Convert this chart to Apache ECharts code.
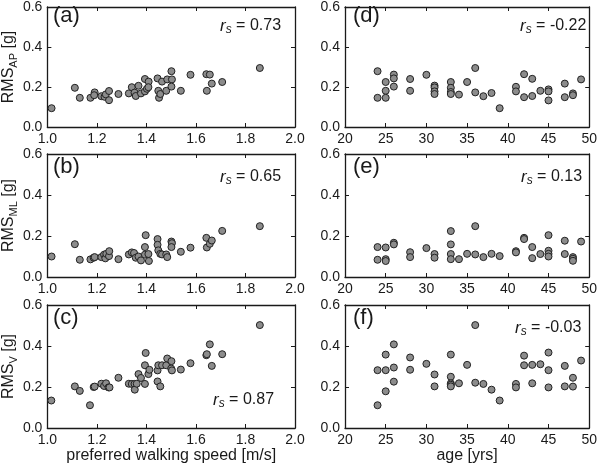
<!DOCTYPE html>
<html><head><meta charset="utf-8">
<script src="https://cdn.jsdelivr.net/npm/echarts@6/dist/echarts.min.js"></script>
<style>html,body{margin:0;padding:0;background:#fff}#c{width:600px;height:466px}</style>
</head><body><div id="c"></div>
<script>
// ---- data ----
const panelLabels = ['(a)', '(b)', '(c)', '(d)', '(e)', '(f)'];
const rsValues = ['0.73', '0.65', '0.87', '-0.22', '0.13', '-0.03'];
const yNames = [['RMS', 'AP'], ['RMS', 'ML'], ['RMS', 'V']];
const speedTicks = [1.0, 1.2, 1.4, 1.6, 1.8, 2.0];
const ageTicks = [20, 25, 30, 35, 40, 45, 50];
const rmsTicks = [0.0, 0.2, 0.4, 0.6];

// (a) speed vs RMS_AP
const speedAP = [[1.017,0.094],[1.111,0.196],[1.131,0.146],[1.174,0.146],[1.191,0.173],[1.189,0.159],[1.218,0.154],[1.231,0.151],[1.236,0.163],[1.249,0.180],[1.249,0.134],[1.287,0.165],[1.329,0.168],[1.341,0.199],[1.352,0.172],[1.357,0.155],[1.368,0.206],[1.378,0.168],[1.394,0.240],[1.394,0.178],[1.402,0.191],[1.409,0.227],[1.408,0.199],[1.445,0.243],[1.448,0.181],[1.451,0.146],[1.456,0.165],[1.463,0.227],[1.480,0.181],[1.484,0.238],[1.501,0.279],[1.503,0.238],[1.501,0.202],[1.539,0.181],[1.578,0.261],[1.642,0.264],[1.644,0.181],[1.656,0.262],[1.664,0.217],[1.706,0.225],[1.858,0.295]];
// (b) speed vs RMS_ML
const speedML = [[1.017,0.100],[1.111,0.160],[1.131,0.084],[1.174,0.086],[1.187,0.094],[1.191,0.097],[1.218,0.097],[1.229,0.109],[1.234,0.091],[1.238,0.113],[1.249,0.102],[1.250,0.126],[1.287,0.087],[1.329,0.110],[1.341,0.120],[1.350,0.117],[1.357,0.094],[1.368,0.100],[1.378,0.081],[1.394,0.146],[1.394,0.109],[1.397,0.204],[1.408,0.112],[1.410,0.078],[1.445,0.185],[1.445,0.157],[1.448,0.130],[1.456,0.113],[1.463,0.110],[1.480,0.110],[1.484,0.097],[1.501,0.173],[1.503,0.165],[1.501,0.146],[1.539,0.123],[1.578,0.143],[1.642,0.191],[1.644,0.144],[1.656,0.162],[1.664,0.178],[1.706,0.225],[1.858,0.248]];
// (c) speed vs RMS_V
const speedV = [[1.016,0.134],[1.111,0.203],[1.131,0.181],[1.172,0.111],[1.187,0.200],[1.191,0.202],[1.218,0.216],[1.229,0.205],[1.237,0.218],[1.247,0.198],[1.251,0.198],[1.287,0.245],[1.329,0.216],[1.341,0.215],[1.352,0.215],[1.353,0.187],[1.361,0.216],[1.368,0.263],[1.378,0.244],[1.394,0.215],[1.397,0.366],[1.394,0.306],[1.408,0.263],[1.412,0.284],[1.445,0.281],[1.448,0.306],[1.445,0.227],[1.456,0.203],[1.463,0.306],[1.480,0.306],[1.484,0.339],[1.501,0.326],[1.500,0.290],[1.503,0.281],[1.539,0.285],[1.578,0.316],[1.642,0.355],[1.644,0.360],[1.656,0.408],[1.664,0.303],[1.706,0.360],[1.858,0.502]];
// (d) age vs RMS_AP
const ageAP = [[24,0.279],[24,0.146],[25,0.225],[25,0.181],[25,0.146],[26,0.262],[26,0.243],[26,0.202],[28,0.240],[28,0.181],[30,0.261],[31,0.207],[31,0.198],[31,0.178],[31,0.165],[33,0.225],[33,0.196],[33,0.175],[33,0.165],[34,0.162],[35,0.225],[36,0.295],[36,0.173],[37,0.154],[38,0.170],[39,0.094],[41,0.201],[41,0.178],[42,0.264],[42,0.149],[43,0.241],[43,0.155],[44,0.181],[45,0.188],[45,0.178],[45,0.133],[47,0.217],[47,0.149],[48,0.168],[48,0.159],[49,0.238]];
// (e) age vs RMS_ML
const ageML = [[24,0.146],[24,0.084],[25,0.144],[25,0.087],[25,0.078],[26,0.167],[26,0.159],[28,0.121],[28,0.097],[30,0.141],[31,0.112],[31,0.094],[33,0.224],[33,0.159],[33,0.112],[33,0.087],[34,0.087],[35,0.113],[36,0.248],[36,0.110],[37,0.097],[38,0.113],[39,0.102],[41,0.126],[41,0.120],[42,0.191],[42,0.185],[43,0.146],[43,0.092],[44,0.112],[45,0.204],[45,0.128],[45,0.113],[45,0.100],[47,0.177],[47,0.112],[48,0.097],[48,0.089],[48,0.079],[49,0.173]];
// (f) age vs RMS_V
const ageV = [[24,0.282],[24,0.111],[25,0.358],[25,0.282],[25,0.179],[26,0.408],[26,0.295],[26,0.226],[28,0.344],[28,0.284],[30,0.313],[31,0.261],[31,0.203],[33,0.358],[33,0.250],[33,0.218],[33,0.211],[33,0.203],[34,0.218],[35,0.308],[36,0.502],[36,0.221],[37,0.215],[38,0.187],[39,0.134],[41,0.215],[41,0.198],[42,0.353],[42,0.306],[43,0.308],[43,0.218],[44,0.311],[45,0.368],[45,0.282],[45,0.198],[47,0.303],[47,0.203],[48,0.245],[48,0.202],[49,0.329]];

// ---- layout ----
const panelData = [speedAP, speedML, speedV, ageAP, ageML, ageV];
const grids = [
  {left:45, top:3, width:250, height:124},
  {left:45, top:154, width:250, height:123},
  {left:45, top:305, width:250, height:123},
  {left:345, top:3, width:250, height:124},
  {left:345, top:154, width:250, height:123},
  {left:345, top:305, width:250, height:123}
];
const rsPos = [[220,26],[220,177],[213,400],[520,26],[521,177],[515,328]];

const FONT = 'Liberation Sans, Arial, sans-serif';
const INK = '#1a1a1a';

const option = {
  animation: false,
  backgroundColor: '#fff',
  textStyle: {fontFamily: FONT},
  grid: grids.map(g => Object.assign({containLabel: false}, g)),
  xAxis: [], yAxis: [], series: [], graphic: []
};

grids.forEach((g, i) => {
  const isSpeed = i < 3;
  const ticks = isSpeed ? speedTicks : ageTicks;
  const xmin = ticks[0], xmax = ticks[ticks.length - 1];
  const xint = ticks[1] - ticks[0];
  const bottomRow = (i % 3) === 2;
  const axisBase = {
    axisLine: {show: true, onZero: false, lineStyle: {color: INK, width: 1.3}},
    axisTick: {show: true, inside: true, length: 4, lineStyle: {color: INK, width: 1}},
    splitLine: {show: false}
  };
  option.xAxis.push(Object.assign({}, axisBase, {
    type: 'value', gridIndex: i, position: 'bottom', min: xmin, max: xmax, interval: xint,
    axisLabel: {show: true, color: INK, fontSize: 14, fontFamily: FONT, margin: 5,
      formatter: v => isSpeed ? v.toFixed(1) : String(Math.round(v))},
    name: bottomRow ? (isSpeed ? 'preferred walking speed [m/s]' : 'age [yrs]') : '',
    nameLocation: 'middle', nameGap: 20,
    nameTextStyle: {color: INK, fontSize: 16, fontFamily: FONT}
  }));
  option.xAxis.push(Object.assign({}, axisBase, {
    type: 'value', gridIndex: i, position: 'top', min: xmin, max: xmax, interval: xint,
    axisLabel: {show: false}
  }));
  const yn = (i < 3) ? yNames[i] : null;
  option.yAxis.push(Object.assign({}, axisBase, {
    type: 'value', gridIndex: i, position: 'left', min: rmsTicks[0], max: rmsTicks[rmsTicks.length - 1], interval: 0.2,
    axisLabel: {show: true, color: INK, fontSize: 14, fontFamily: FONT, margin: 5, formatter: v => v.toFixed(1)},
    name: yn ? '{m|' + yn[0] + '}{s|' + yn[1] + '}{m| [g]}' : '',
    nameLocation: 'middle', nameGap: 23,
    nameTextStyle: {color: INK, fontFamily: FONT,
      rich: {
        m: {fontSize: 16, lineHeight: 20, color: INK, fontFamily: FONT, verticalAlign: 'middle'},
        s: {fontSize: 11, lineHeight: 11, color: INK, fontFamily: FONT, verticalAlign: 'bottom'}
      }}
  }));
  option.yAxis.push(Object.assign({}, axisBase, {
    type: 'value', gridIndex: i, position: 'right', min: rmsTicks[0], max: rmsTicks[rmsTicks.length - 1], interval: 0.2,
    axisLabel: {show: false}
  }));
  option.series.push({
    type: 'scatter', xAxisIndex: 2 * i, yAxisIndex: 2 * i, data: panelData[i],
    symbol: 'circle', symbolSize: 7,
    itemStyle: {color: '#8c8c8c', borderColor: '#222', borderWidth: 1, opacity: 1},
    emphasis: {disabled: true}
  });
  option.graphic.push({
    type: 'text', left: g.left + 8, top: g.top + 2,
    style: {text: panelLabels[i], font: '22px ' + FONT, fill: INK}
  });
  option.graphic.push({
    type: 'text', x: rsPos[i][0], y: rsPos[i][1],
    style: {
      text: '{r|r}{s|s}{n| = ' + rsValues[i] + '}',
      verticalAlign: 'middle', align: 'left',
      rich: {
        r: {fontSize: 17, fontStyle: 'italic', lineHeight: 20, fill: INK, fontFamily: FONT, verticalAlign: 'middle'},
        s: {fontSize: 12, fontStyle: 'italic', lineHeight: 12, fill: INK, fontFamily: FONT, verticalAlign: 'bottom'},
        n: {fontSize: 16, lineHeight: 20, fill: INK, fontFamily: FONT, verticalAlign: 'middle'}
      }
    }
  });
});

const chart = echarts.init(document.getElementById('c'), null, {renderer: 'canvas'});
chart.setOption(option);
</script>
</body></html>
